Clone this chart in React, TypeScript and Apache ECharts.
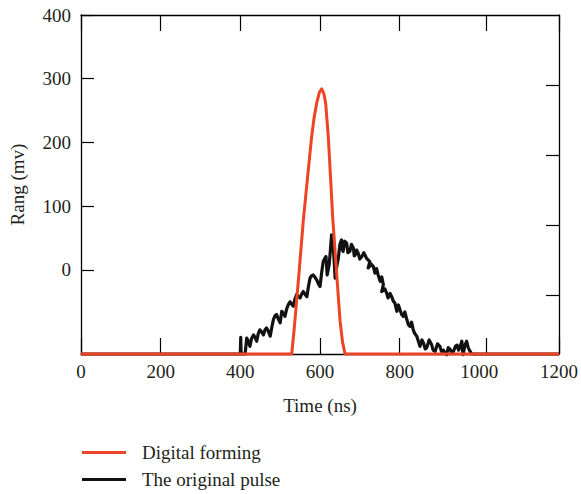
import React, { useEffect, useRef } from "react";
import * as echarts from "echarts";

// Axis ranges and tick positions
const xTicks = [0, 200, 400, 600, 800, 1018, 1200];
const yLabels = [0, 100, 200, 300, 400];
const yRightTicks = [-40, 70, 180, 290];
const Y_MIN = -132;
const Y_MAX = 400;

// Digital forming output: [time (ns), amplitude (mV)]
const digitalForming: [number, number][] = [
  [0, -132], [529, -132], [535, -94], [541.5, -47], [548, 0], [558, 77],
  [568.6, 144], [579, 209], [585, 238], [591.7, 262], [598.7, 279],
  [604.3, 284], [610, 276], [614.3, 261], [620.8, 209], [626.4, 146],
  [631.9, 82], [637.7, 31], [643.9, -24], [650.2, -79], [656.5, -113],
  [662.8, -132], [1200, -132],
];

// Original detector pulse: [time (ns), amplitude (mV)]
const originalPulse: [number, number][] = [
  [0, -132], [400, -132], [401, -106], [402, -132], [412, -132],
  [416, -107], [420, -112], [424, -120], [428, -108], [433, -102],
  [437, -106], [441, -112], [445, -100], [449, -94], [454, -98],
  [458, -102], [462, -94], [466, -91], [470, -96], [475, -104],
  [479, -90], [483, -78], [487, -72], [491, -70], [496, -78],
  [500, -83], [504, -65], [508, -68], [512, -73], [516, -62],
  [520, -55], [525, -50], [529, -54], [533, -57], [537, -46],
  [541, -39], [546, -42], [550, -44], [554, -38], [558, -34],
  [562, -38], [567, -42], [571, -26], [575, -13], [579, -9],
  [583, -8], [588, -12], [592, -16], [596, -22], [600, -26],
  [604, -5], [608, 13], [612, 18], [615, 21], [618, -8],
  [621, 2], [623, 8], [626, 30], [629, 55], [631, 46],
  [633, 39], [636, 10], [638, -13], [642, 5], [646, 18],
  [650, 40], [654, 47], [656, 32], [658, 29], [662, 45],
  [667, 42], [670, 27], [675, 29], [679, 40], [684, 34],
  [686, 22], [688, 23], [692, 31], [696, 26], [700, 17],
  [705, 21], [710, 27], [717, 18], [725, 13], [721, 3],
  [729, 9], [734, 5], [738, -5], [742, 2], [746, -8],
  [751, -18], [755, -11], [759, -23], [755, -34], [763, -30],
  [767, -36], [771, -44], [776, -37], [780, -42], [784, -49],
  [788, -52], [793, -65], [797, -55], [801, -63], [805, -70],
  [809, -73], [813, -66], [818, -78], [822, -86], [826, -89],
  [830, -82], [834, -94], [838, -100], [843, -104], [847, -112],
  [851, -120], [856, -110], [860, -115], [864, -124], [868, -122],
  [874, -110], [880, -117], [884, -126], [889, -128], [895, -116],
  [901, -120], [905, -128], [910, -126], [914, -131], [918, -133],
  [922, -122], [926, -124], [931, -130], [935, -128], [940, -120],
  [944, -118], [948, -126], [951, -122], [956, -112], [959, -133],
  [964, -118], [968, -112], [972, -122], [977, -128], [981, -132],
  [1200, -132],
];

const FONT = "Liberation Serif";
const TEXT_COLOR = "#231f20";
const RED = "#ee4425";
const BLACK = "#111111";
const FS = 19;

export default function App() {
  const ref = useRef<HTMLDivElement>(null);

  useEffect(() => {
    if (!ref.current) return;
    const chart = echarts.init(ref.current, null, { renderer: "svg" });

    const axisLine = { show: true, onZero: false, lineStyle: { color: "#000", width: 1.3 } };
    const tickStyle = { color: "#000", width: 1.2 };
    const plain = (v: number) => String(v);

    chart.setOption({
      animation: false,
      backgroundColor: "#fff",
      textStyle: { fontFamily: FONT, color: TEXT_COLOR },
      grid: { left: 81, right: 22, top: 15, bottom: 140, containLabel: false },
      legend: {
        orient: "vertical",
        left: 82,
        top: 442,
        padding: 0,
        itemWidth: 44,
        itemHeight: 3,
        itemGap: 6,
        icon: "rect",
        data: ["Digital forming", "The original pulse"],
        textStyle: {
          fontFamily: FONT,
          fontSize: FS,
          color: TEXT_COLOR,
          lineHeight: 21,
          padding: [0, 0, 0, 11],
        },
      },
      xAxis: [
        {
          type: "value",
          position: "bottom",
          min: 0,
          max: 1200,
          interval: 200,
          name: "Time (ns)",
          nameLocation: "middle",
          nameGap: 42,
          nameTextStyle: { fontFamily: FONT, fontSize: FS, color: TEXT_COLOR },
          axisLine,
          axisTick: { show: true, inside: true, length: 16, customValues: xTicks, lineStyle: tickStyle },
          axisLabel: { fontFamily: FONT, fontSize: FS, color: TEXT_COLOR, margin: 8, formatter: plain },
          splitLine: { show: false },
        },
        {
          type: "value",
          position: "top",
          min: 0,
          max: 1200,
          interval: 200,
          axisLine,
          axisTick: { show: true, inside: true, length: 16, customValues: xTicks, lineStyle: tickStyle },
          axisLabel: { show: false },
          splitLine: { show: false },
        },
      ],
      yAxis: [
        {
          type: "value",
          position: "left",
          min: Y_MIN,
          max: Y_MAX,
          name: "Rang (mv)",
          nameLocation: "middle",
          nameGap: 54,
          nameTextStyle: { fontFamily: FONT, fontSize: FS, color: TEXT_COLOR },
          axisLine,
          axisTick: { show: true, inside: true, length: 13, customValues: yLabels, lineStyle: tickStyle },
          axisLabel: {
            fontFamily: FONT,
            fontSize: FS,
            color: TEXT_COLOR,
            margin: 10,
            customValues: yLabels,
            formatter: plain,
          },
          splitLine: { show: false },
        },
        {
          type: "value",
          position: "right",
          min: Y_MIN,
          max: Y_MAX,
          axisLine,
          axisTick: { show: true, inside: true, length: 13, customValues: yRightTicks, lineStyle: tickStyle },
          axisLabel: { show: false },
          splitLine: { show: false },
        },
      ],
      series: [
        {
          name: "The original pulse",
          type: "line",
          xAxisIndex: 0,
          yAxisIndex: 0,
          data: originalPulse,
          showSymbol: false,
          symbol: "none",
          clip: false,
          lineStyle: { color: BLACK, width: 3.2, join: "round" },
          itemStyle: { color: BLACK },
        },
        {
          name: "Digital forming",
          type: "line",
          xAxisIndex: 0,
          yAxisIndex: 0,
          data: digitalForming,
          showSymbol: false,
          symbol: "none",
          clip: false,
          lineStyle: { color: RED, width: 3, join: "round" },
          itemStyle: { color: RED },
        },
      ],
    });

    return () => chart.dispose();
  }, []);

  return <div ref={ref} style={{ width: 581, height: 494, position: "absolute", left: 0, top: 0 }} />;
}
